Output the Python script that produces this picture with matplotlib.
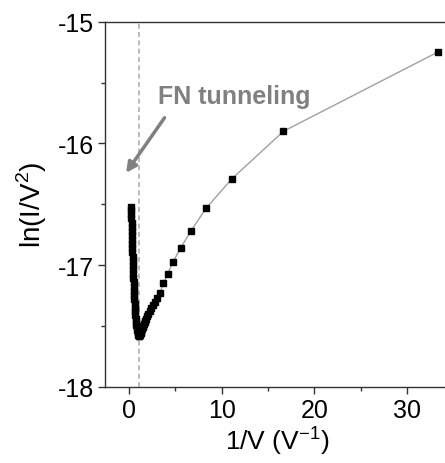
import matplotlib
matplotlib.use("Agg")
import matplotlib.pyplot as plt
from matplotlib.ticker import MultipleLocator

plt.rcParams['font.family'] = ['Liberation Sans', 'DejaVu Sans']
plt.rcParams['axes.unicode_minus'] = False
plt.rcParams['mathtext.fontset'] = 'custom'
plt.rcParams['mathtext.rm'] = 'Liberation Sans'

# 1/V (V^-1), ordered from low bias to high bias
inv_v = [33.33, 16.67, 11.11, 8.333, 6.667, 5.556, 4.762, 4.167, 3.704, 3.333,
         3.030, 2.778, 2.564, 2.381, 2.222, 2.083, 1.961, 1.852, 1.754, 1.667,
         1.587, 1.515, 1.449, 1.389, 1.333, 1.282, 1.235, 1.190, 1.149, 1.111,
         1.07, 1.03, 0.99, 0.95, 0.91, 0.87, 0.83, 0.79, 0.75, 0.71,
         0.68, 0.65, 0.62, 0.59, 0.56, 0.54, 0.52, 0.50, 0.48, 0.46,
         0.44, 0.42, 0.40, 0.385, 0.37, 0.355, 0.34, 0.325, 0.31, 0.295,
         0.28, 0.27, 0.26, 0.25, 0.24, 0.23, 0.22]
# ln(I/V^2)
ln_iv2 = [-15.25, -15.90, -16.29, -16.53, -16.72, -16.86, -16.97, -17.07, -17.15, -17.23,
          -17.27, -17.30, -17.33, -17.355, -17.38, -17.40, -17.42, -17.44, -17.455, -17.47,
          -17.485, -17.50, -17.51, -17.52, -17.535, -17.545, -17.555, -17.565, -17.575, -17.58,
          -17.58, -17.575, -17.57, -17.56, -17.545, -17.53, -17.51, -17.49, -17.465, -17.44,
          -17.41, -17.38, -17.35, -17.315, -17.28, -17.245, -17.21, -17.175, -17.14, -17.105,
          -17.07, -17.035, -17.00, -16.965, -16.93, -16.895, -16.86, -16.825, -16.79, -16.755,
          -16.72, -16.685, -16.65, -16.615, -16.58, -16.55, -16.52]

x_ticks = [0, 10, 20, 30]
y_ticks = [-18, -17, -16, -15]
v_transition = 1.11

fig = plt.figure(figsize=(4.45, 4.64), dpi=100)
ax = fig.add_axes([0.236, 0.1638, 0.774, 0.7873])

ax.axvline(v_transition, color='#b0b0b0', lw=1.2, ls=(0, (3, 2)), zorder=1)
ax.plot(inv_v, ln_iv2, color='#a0a0a0', lw=1.0, marker='s', ms=4.8,
        mfc='black', mec='black', zorder=3)

ax.annotate('', xy=(-0.5, -16.26), xytext=(4.0, -15.77),
            arrowprops=dict(arrowstyle='-|>,head_length=0.6,head_width=0.3',
                            color='#808080', lw=2.5))
ax.text(3.1, -15.61, 'FN tunneling', color='#808080', fontsize=18,
        fontweight='bold', va='center', ha='left')

ax.set_xlim(-2.6, 34.6)
ax.set_ylim(-18, -15)
ax.set_xticks(x_ticks)
ax.set_yticks(y_ticks)
ax.xaxis.set_minor_locator(MultipleLocator(5))
ax.yaxis.set_minor_locator(MultipleLocator(0.5))
ax.tick_params(which='both', direction='out', top=False, right=False,
               labelsize=18, color='#333333', width=1, pad=3)
ax.tick_params(which='major', length=5)
ax.tick_params(which='minor', length=3)
for s in ax.spines.values():
    s.set_color('#333333')
    s.set_linewidth(1)

ax.set_xlabel('1/V (V$^{-1}$)', fontsize=19, labelpad=1)
ax.set_ylabel('ln(I/V$^{2}$)', fontsize=20, labelpad=6)

fig.savefig('out.png', dpi=100)
